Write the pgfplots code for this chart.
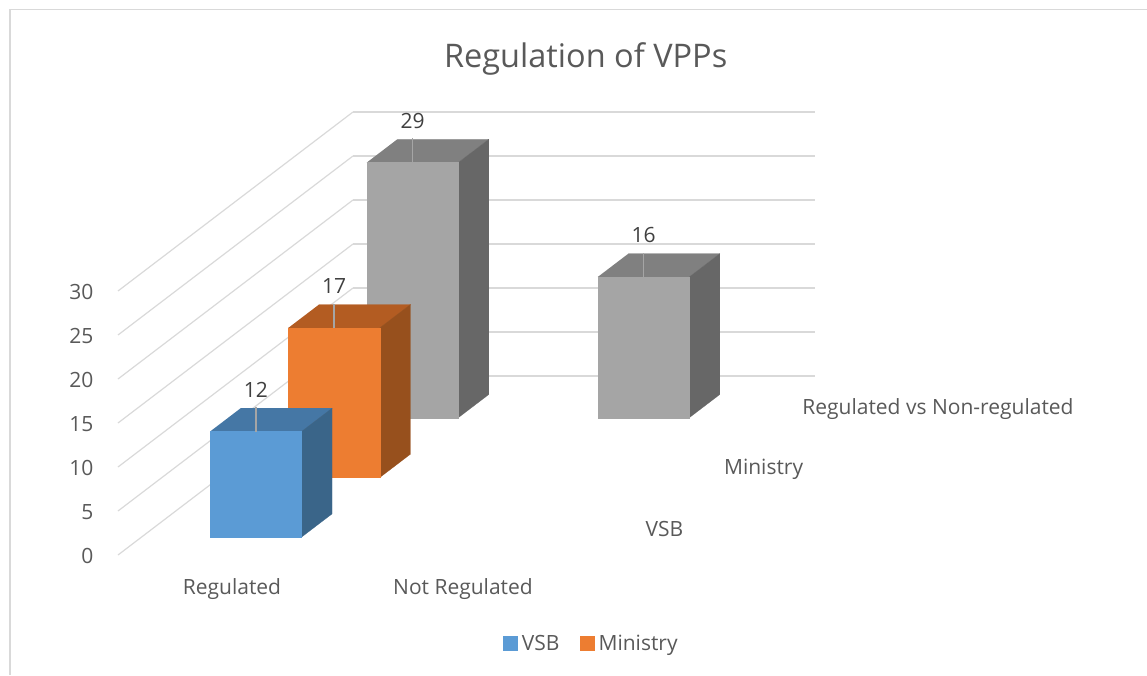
\documentclass[border=0pt]{standalone}
\usepackage{fontspec}
\setmainfont{Open Sans}
\usepackage{pgfplots}
\pgfplotsset{compat=1.18}
\definecolor{txt}{HTML}{595959}
\definecolor{lbl}{HTML}{404040}
\definecolor{gridc}{HTML}{D9D9D9}
\definecolor{vsbF}{HTML}{5B9BD5}\definecolor{vsbT}{HTML}{4577A5}\definecolor{vsbS}{HTML}{3A6589}
\definecolor{minF}{HTML}{ED7D31}\definecolor{minT}{HTML}{B35C22}\definecolor{minS}{HTML}{97501D}
\definecolor{rvnF}{HTML}{A5A5A5}\definecolor{rvnT}{HTML}{808080}\definecolor{rvnS}{HTML}{676767}

% one 3D column: x0, x1, y0, y1, value, colour prefix
\newcommand{\column}[6]{%
  \addplot3[fill=#6T, draw=#6T, line width=.2pt, forget plot] coordinates {(#1,#3,#5) (#2,#3,#5) (#2,#4,#5) (#1,#4,#5)};
  \addplot3[fill=#6S, draw=#6S, line width=.2pt, forget plot] coordinates {(#2,#3,0) (#2,#4,0) (#2,#4,#5) (#2,#3,#5)};
  \addplot3[fill=#6F, draw=#6F, line width=.2pt, forget plot] coordinates {(#1,#3,0) (#2,#3,0) (#2,#3,#5) (#1,#3,#5)};
}
% leader and value label
\newcommand{\vallabel}[3]{%
  \addplot3[draw=rvnF, line width=1.5pt, forget plot] coordinates {(#1,#2,#3) (#1,#2,#3+2.75)};
  \node[font=\fontsize{21}{25}\selectfont, text=lbl] at (axis cs:#1,#2,#3+4.75) {#3};
}

\begin{document}
\begin{tikzpicture}
\path[use as bounding box] (-118pt,555pt) rectangle (1029pt,-120pt);
\draw[gridc, line width=1.2pt] (-108pt,-120pt) -- (-108pt,545.5pt) -- (1029pt,545.5pt);
\begin{axis}[
    at={(0pt,0pt)}, anchor=origin,
    x={(231pt,0pt)}, y={(78.33pt,59.67pt)}, z={(0pt,8.8pt)},
    xmin=0, xmax=2, ymin=0, ymax=3, zmin=0, zmax=30,
    clip=false,
    axis line style={draw=none},
    major tick length=0pt,
    xmajorgrids=false, ymajorgrids=false, zmajorgrids=true,
    major grid style={gridc, line width=1.2pt},
    xtick={0.5,1.5}, xticklabels={Regulated, Not Regulated},
    ytick={0.5,1.5,2.5}, yticklabels={VSB, Ministry, Regulated vs Non-regulated},
    ztick={0,5,...,30},
    /pgf/number format/assume math mode=true,
    every tick label/.append style={font=\fontsize{21}{25}\selectfont, text=txt},
    xticklabel style={anchor=center, xshift=-1.5pt, yshift=-34pt},
    yticklabel style={anchor=west, xshift=23pt, yshift=-3.5pt},
    zticklabel style={anchor=east, xshift=-21pt, yshift=-1pt},
    title={Regulation of VPPs},
    title style={at={(0.671,1.106)}, anchor=center, font=\fontsize{32.5}{38}\selectfont, text=txt},
    legend columns=2,
    legend style={at={(0.679,-0.199)}, anchor=center, draw=none, fill=none,
      font=\fontsize{21}{25}\selectfont, text=txt,
      /tikz/every even column/.append style={column sep=18pt},
      /tikz/every odd column/.append style={column sep=2pt}},
    legend image code/.code={\fill[#1, draw=none] (0pt,-7.5pt) rectangle (15pt,7.5pt);},
]
\addlegendimage{fill=vsbF}\addlegendentry{VSB}
\addlegendimage{fill=minF}\addlegendentry{Ministry}
% Regulated vs Non-regulated (back row)
\column{0.297}{0.693}{2.3}{2.69}{29}{rvn}
\column{1.297}{1.693}{2.3}{2.69}{16}{rvn}
\vallabel{0.495}{2.3}{29}
\vallabel{1.495}{2.3}{16}
% Ministry
\column{0.297}{0.693}{1.3}{1.69}{17}{min}
\vallabel{0.495}{1.3}{17}
% VSB
\column{0.297}{0.693}{0.3}{0.69}{12}{vsb}
\vallabel{0.495}{0.3}{12}
\end{axis}
\end{tikzpicture}
\end{document}
